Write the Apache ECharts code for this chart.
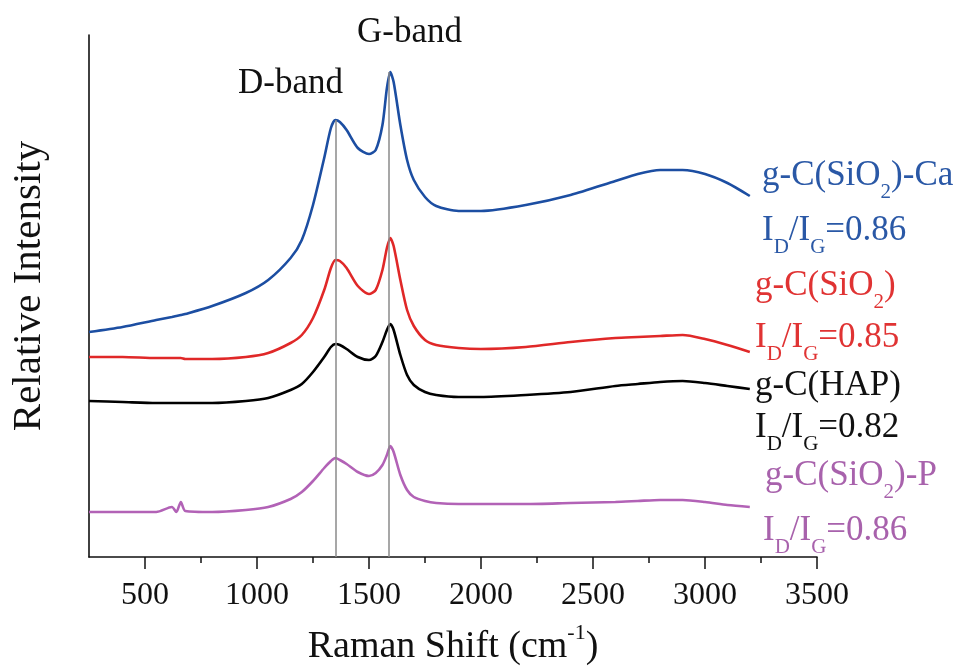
<!DOCTYPE html>
<html>
<head>
<meta charset="utf-8">
<script src="https://cdn.jsdelivr.net/npm/echarts@6/dist/echarts.min.js"></script>
<style>
  html, body { margin: 0; padding: 0; background: #fff; }
  #chart { width: 965px; height: 666px; }
</style>
</head>
<body>
<div id="chart"></div>
<script>
// Raman shift sample points (cm-1)
const shift = [250, 400, 550, 620, 640, 660, 680, 800, 950, 1050, 1150, 1200, 1250, 1300, 1330, 1350, 1370, 1400, 1450, 1500,
  1530, 1560, 1580, 1595, 1610, 1640, 1670, 1700, 1750, 1800, 1900, 2000, 2200, 2400, 2600, 2700, 2800, 2900, 3000, 3100, 3200];

// relative intensity, stacked with offsets as in the figure
const caValues = [225, 230, 237, 240, 241, 242, 243, 251, 264, 277, 299, 317, 352, 399, 429, 437, 435, 427, 409, 403,
  407, 432, 469, 485, 475, 432, 397, 377, 360, 351, 346, 346, 352, 362, 376, 383, 387, 387, 383, 374, 361];
const sio2Values = [200, 200, 199, 199, 199, 199, 198, 198, 200, 204, 214, 222, 239, 267, 289, 297, 296, 289, 271, 263,
  267, 287, 309, 319, 311, 277, 247, 231, 217, 212, 209, 208, 210, 215, 219, 220, 221, 222, 218, 212, 205];
const hapValues = [156, 155, 154, 154, 154, 154, 154, 154, 156, 159, 167, 173, 185, 200, 210, 213, 212, 208, 200, 197,
  201, 215, 227, 233, 227, 202, 182, 172, 165, 162, 160, 160, 162, 165, 171, 173, 175, 176, 174, 171, 168];
const pValues = [45, 45, 45, 50, 45, 55, 46, 45, 47, 50, 58, 65, 76, 89, 96, 99, 97, 93, 85, 81,
  84, 92, 102, 111, 105, 82, 67, 60, 56, 54, 53, 53, 53, 54, 55, 56, 57, 57, 55, 52, 50];

const seriesNames = ['g-C(SiO2)-Ca', 'g-C(SiO2)', 'g-C(HAP)', 'g-C(SiO2)-P'];
const ratios = ['0.86', '0.85', '0.82', '0.86'];

// D and G band positions and the top of the guide lines
const bandNames = ['D-band', 'G-band'];
const bandShift = [1350, 1590];
const bandTop = [437, 485];

const xTicks = [500, 1000, 1500, 2000, 2500, 3000, 3500];
const xMinorTicks = [750, 1250, 1750, 2250, 2750, 3250];

const chart = echarts.init(document.getElementById('chart'));

const lineColors = ['#1c4ea2', '#e02828', '#000000', '#b262b6'];
const textColors = ['#2a58a6', '#e03333', '#111111', '#a862ac'];
const font = 'Liberation Serif';

function pair(vals) {
  return shift.map((x, i) => [x, vals[i]]);
}

const allValues = [caValues, sio2Values, hapValues, pValues];

const series = allValues.map((vals, i) => ({
  name: seriesNames[i],
  type: 'line',
  data: pair(vals),
  showSymbol: false,
  smooth: 0.25,
  lineStyle: { color: lineColors[i], width: 2.6 },
  z: 3
}));

series[0].markLine = {
  silent: true,
  symbol: 'none',
  label: { show: false },
  lineStyle: { color: '#8a8a8a', width: 1.5, type: 'solid' },
  data: bandShift.map((b, i) => [{ coord: [b, 0] }, { coord: [b, bandTop[i]] }])
};

// label pieces with subscripts
function labelText(name) {
  return name.replace('SiO2', 'SiO}{s|2}{n|');
}
function richFor(color) {
  return {
    n: { fontFamily: font, fontSize: 35, lineHeight: 54, fill: color },
    s: { fontFamily: font, fontSize: 21, lineHeight: 20, fill: color, verticalAlign: 'bottom' }
  };
}

const labelPos = [
  { x: 762, y: 176, x2: 762, y2: 231 },
  { x: 755, y: 286, x2: 755, y2: 338 },
  { x: 755, y: 386, x2: 755, y2: 428 },
  { x: 765, y: 476, x2: 763, y2: 531 }
];

const graphic = [];
seriesNames.forEach((name, i) => {
  graphic.push({
    type: 'text', x: labelPos[i].x, y: labelPos[i].y,
    style: { text: '{n|' + labelText(name) + '}', rich: richFor(textColors[i]), verticalAlign: 'middle' }
  });
  graphic.push({
    type: 'text', x: labelPos[i].x2, y: labelPos[i].y2,
    style: { text: '{n|I}{s|D}{n|/I}{s|G}{n|=' + ratios[i] + '}', rich: richFor(textColors[i]), verticalAlign: 'middle' }
  });
});
graphic.push({
  type: 'text', x: 238, y: 84,
  style: { text: bandNames[0], fontFamily: font, fontSize: 35, fill: '#111', verticalAlign: 'middle' }
});
graphic.push({
  type: 'text', x: 357, y: 33,
  style: { text: bandNames[1], fontFamily: font, fontSize: 35, fill: '#111', verticalAlign: 'middle' }
});
// y axis title
graphic.push({
  type: 'text', x: 29, y: 286, rotation: Math.PI / 2,
  style: { text: 'Relative Intensity', fontFamily: font, fontSize: 41, fill: '#111', align: 'center', verticalAlign: 'middle' }
});

const option = {
  backgroundColor: '#fff',
  animation: false,
  grid: { left: 89, right: 148, top: 35, bottom: 109, containLabel: false, outerBoundsMode: 'none' },
  xAxis: [
    {
      type: 'value',
      position: 'bottom',
      min: 250,
      max: 3500,
      interval: 250,
      name: '{n|Raman Shift (cm}{s|-1}{n|)}',
      nameLocation: 'middle',
      nameGap: 65,
      nameTextStyle: {
        rich: {
          n: { fontFamily: font, fontSize: 38, lineHeight: 50, color: '#111' },
          s: { fontFamily: font, fontSize: 22, lineHeight: 30, color: '#111', verticalAlign: 'top' }
        }
      },
      axisLine: { lineStyle: { color: '#111', width: 1.6 } },
      axisTick: { length: 12, customValues: xTicks, lineStyle: { color: '#111', width: 1.5 } },
      axisLabel: {
        fontFamily: font, fontSize: 32, color: '#111', margin: 23, customValues: xTicks,
        formatter: v => String(v)
      },
      splitLine: { show: false }
    },
    {
      type: 'value',
      position: 'bottom',
      min: 250,
      max: 3500,
      interval: 250,
      axisLine: { show: false },
      axisTick: { length: 6, customValues: xMinorTicks, lineStyle: { color: '#111', width: 1.5 } },
      axisLabel: { show: false },
      splitLine: { show: false }
    }
  ],
  yAxis: {
    type: 'value',
    min: 0,
    max: 522,
    axisLine: { show: true, lineStyle: { color: '#111', width: 1.6 } },
    axisTick: { show: false },
    axisLabel: { show: false },
    splitLine: { show: false }
  },
  graphic: graphic,
  series: series
};

chart.setOption(option);
</script>
</body>
</html>
